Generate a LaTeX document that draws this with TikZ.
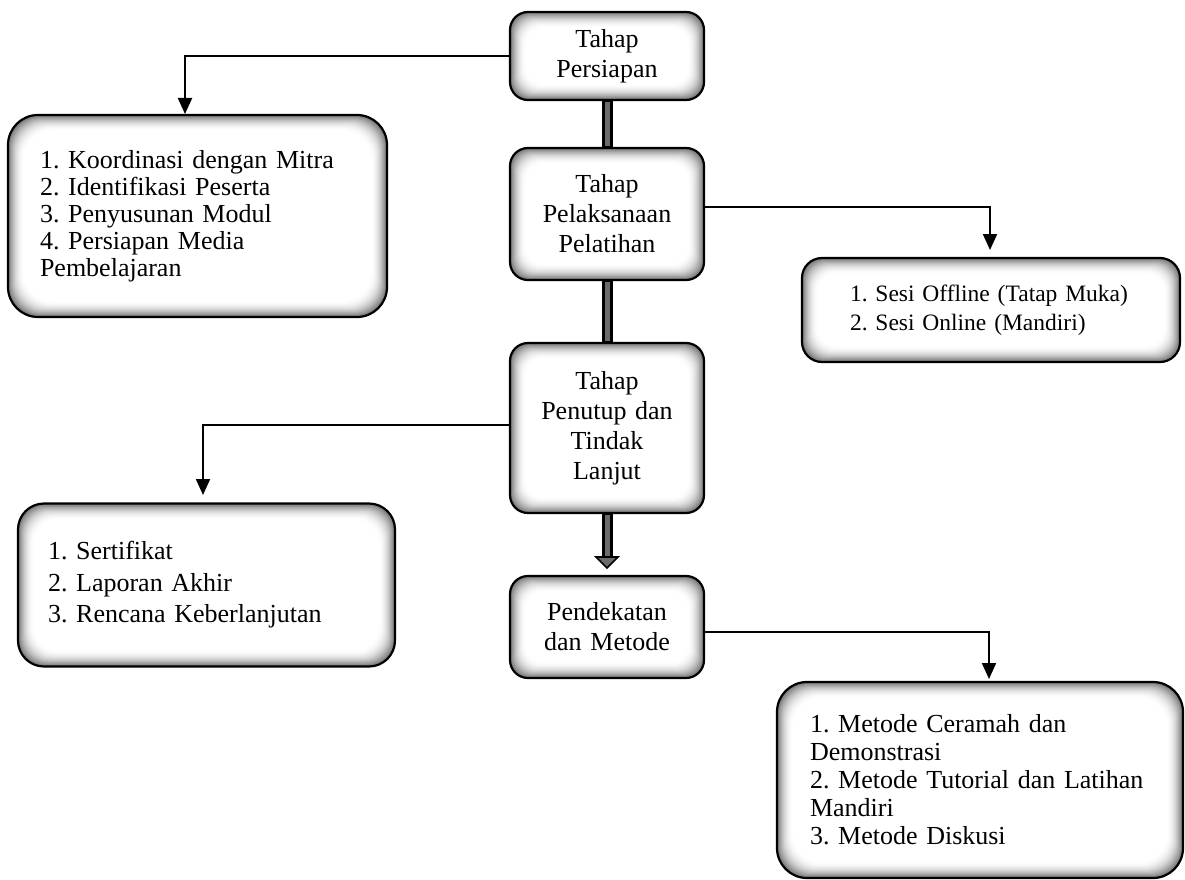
\documentclass[tikz,border=0pt]{standalone}
\usepackage{fontspec}
\setmainfont{Liberation Serif}
\usetikzlibrary{calc,arrows.meta}
\frenchspacing
\tikzset{
  shbox/.style={draw=black, line width=2.2pt, rounded corners=#1, inner ysep=0pt,
    path picture={
      \foreach \i in {0,...,16}{
        \pgfmathsetmacro\c{55*(1-\i/16)^2}
        \fill[black!\c, rounded corners=#1]
          ([shift={(\i pt,\i pt)}]path picture bounding box.south west) rectangle
          ([shift={(-\i pt,-\i pt)}]path picture bounding box.north east);
      }
    }},
  mid/.style={shbox=18pt, minimum width=194pt, text width=184pt, inner xsep=5pt,
    align=center, font=\fontsize{26}{30}\selectfont},
  list/.style={shbox=#1, align=left},
  conn/.style={line width=2pt, -{Triangle[width=14pt,length=16pt]}},
  bar/.style={line width=11pt, draw=black},
  barin/.style={line width=5pt, draw=black!58},
}
\begin{document}
\begin{tikzpicture}[x=1pt,y=-1pt]
\useasboundingbox (0,0) rectangle (1185,880);

% central column
\node[mid, minimum height=88pt] (P) at (607,56) {Tahap\\Persiapan};
\node[mid, minimum height=132pt] (L) at (607,214) {Tahap\\Pelaksanaan\\Pelatihan};
\node[mid, minimum height=170pt] (T) at (607,428) {Tahap\\Penutup dan\\Tindak\\Lanjut};
\node[mid, minimum height=102pt] (M) at (607,627) {Pendekatan\\dan Metode};

% side boxes
\node[list=30pt, text width=315pt, inner xsep=32pt, minimum height=202pt,
  font=\fontsize{26}{27}\selectfont] (A) at (197.5,216)
  {1. Koordinasi dengan Mitra\\2. Identifikasi Peserta\\3. Penyusunan Modul\\4. Persiapan Media\\Pembelajaran};
\node[list=20pt, text width=282pt, inner xsep=48pt, minimum height=104pt,
  font=\fontsize{23.5}{29}\selectfont] (B) at (991,310)
  {\mbox{1. Sesi Offline (Tatap Muka)}\\\mbox{2. Sesi Online (Mandiri)}};
\node[list=26pt, text width=317pt, inner xsep=30pt, minimum height=163pt,
  font=\fontsize{26}{31.5}\selectfont] (C) at (206.5,585)
  {1. Sertifikat\\2. Laporan Akhir\\3. Rencana Keberlanjutan};
\node[list=30pt, text width=340pt, inner xsep=33pt, minimum height=196pt,
  font=\fontsize{26}{28}\selectfont] (D) at (980,780)
  {\mbox{1. Metode Ceramah dan}\\Demonstrasi\\\mbox{2. Metode Tutorial dan Latihan}\\Mandiri\\3. Metode Diskusi};

% thick vertical bars
\draw[bar] (P.south) -- (L.north);
\draw[barin] ([yshift=-1pt]P.south) -- ([yshift=1pt]L.north);
\draw[bar] (L.south) -- (T.north);
\draw[barin] ([yshift=-1pt]L.south) -- ([yshift=1pt]T.north);
\coordinate (th) at (607,557);
\coordinate (tt) at (607,568);
\draw[bar] (T.south) -- (th);
\draw[barin] ([yshift=-1pt]T.south) -- ([yshift=1pt]th);
\filldraw[fill=black!58, draw=black, line width=1.6pt, line join=miter]
  ([xshift=-11pt]th) -- ([xshift=11pt]th) -- (tt) -- cycle;

% connectors
\coordinate (a1) at (185,114);
\coordinate (b1) at (990,250);
\coordinate (c1) at (203,495);
\coordinate (d1) at (989,679);
\draw[conn] (P.west) -| (a1);
\draw[conn] ([yshift=7pt]L.east) -| (b1);
\draw[conn] ([yshift=3pt]T.west) -| (c1);
\draw[conn] ([yshift=-5pt]M.east) -| (d1);
\end{tikzpicture}
\end{document}
